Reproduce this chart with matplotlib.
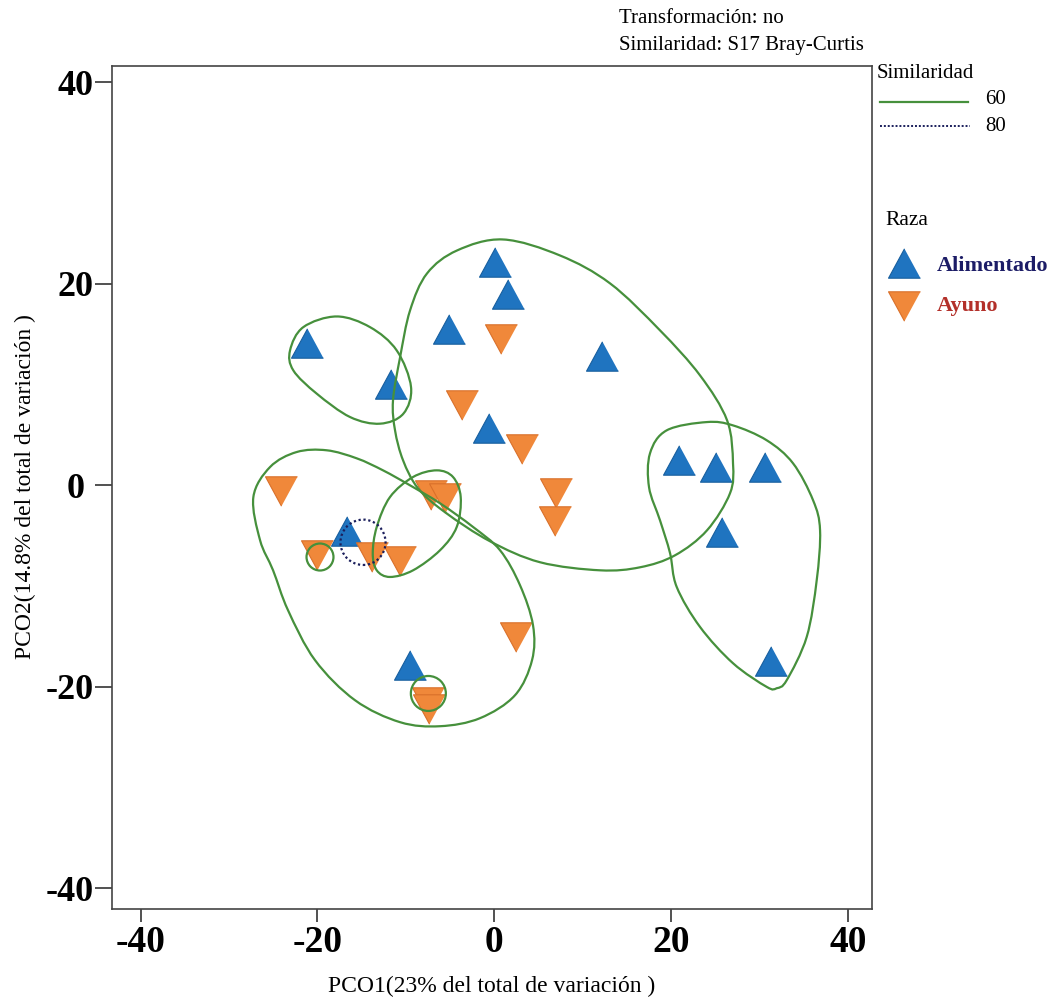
import numpy as np
import matplotlib
matplotlib.use('Agg')
import matplotlib.pyplot as plt
from matplotlib.path import Path
from matplotlib.patches import PathPatch, Ellipse
from matplotlib.lines import Line2D

plt.rcParams['font.family'] = ['Liberation Serif', 'DejaVu Serif']
plt.rcParams['axes.unicode_minus'] = False

# PCO scores - Alimentado
alim_x = [-21.23, -11.67, 0.06, 1.57, -5.13, -0.61, 12.20, 20.89, 25.13, 30.61, 25.80, 31.27, -16.68, -9.52]
alim_y = [14.13, 10.01, 22.11, 18.94, 15.53, 5.68, 12.79, 2.47, 1.81, 1.81, -4.64, -17.46, -4.57, -17.79]

# PCO scores - Ayuno
ayuno_x = [0.72, -3.64, 3.15, 6.94, 6.88, 2.47, -24.15, -20.02, -13.88, -10.68, -7.20, -5.62, -7.49, -7.37]
ayuno_y = [14.49, 7.96, 3.56, -0.75, -3.58, -15.08, -0.53, -6.95, -7.08, -7.47, -0.97, -1.28, -21.50, -22.22]

# similarity 60 outlines (PCO1, PCO2)
grupo_a = [(-17.82, 16.75), (-21.60, 15.69), (-23.10, 13.38), (-22.73, 11.40), (-20.08, 9.09),
           (-16.31, 6.77), (-12.92, 6.11), (-10.28, 7.10), (-9.41, 9.74), (-11.03, 13.38), (-14.05, 15.69)]
grupo_b = [(1.00, 24.39), (-4.20, 23.30), (-7.60, 21.02), (-9.52, 17.35), (-10.65, 12.69), (-11.45, 8.42),
           (-11.22, 5.45), (-10.31, 2.47), (-8.62, -0.30), (-5.56, -2.68), (-0.47, -5.56), (5.19, -7.64),
           (11.98, -8.44), (16.50, -8.14), (20.46, -6.95), (24.08, -4.47), (26.68, -0.80), (27.02, 2.18),
           (26.35, 6.44), (23.29, 10.90), (18.76, 15.37), (13.11, 20.03), (7.45, 22.80)]
grupo_c = [(24.05, 6.27), (19.52, 5.45), (17.63, 3.17), (17.52, -0.20), (18.76, -3.48), (19.90, -6.75),
           (20.65, -10.09), (23.29, -14.06), (27.02, -17.66), (30.84, -20.01), (31.97, -20.14), (33.10, -19.34),
           (35.36, -15.05), (36.49, -9.43), (36.87, -4.47), (36.08, -1.49), (33.81, 2.18), (30.84, 4.46),
           (27.02, 5.94)]
grupo_d = [(-22.34, 3.30), (-18.95, 3.47), (-15.55, 2.67), (-12.58, 1.48), (-9.52, -0.01), (-6.13, -1.79),
           (-2.39, -4.14), (0.66, -6.45), (2.92, -9.92), (4.39, -13.89), (4.28, -17.36), (2.36, -20.83),
           (-1.60, -23.11), (-6.13, -23.91), (-10.65, -23.51), (-15.75, -21.33), (-20.27, -17.36),
           (-23.33, -12.40), (-25.02, -8.44), (-26.49, -5.46), (-27.25, -1.17), (-25.36, 1.81)]
grupo_e = [(-13.29, -4.14), (-11.79, -1.17), (-9.18, 0.82), (-6.50, 1.48), (-4.66, 0.82), (-3.79, -1.17),
           (-4.24, -4.14), (-6.13, -6.45), (-9.18, -8.44), (-11.79, -9.10), (-13.29, -8.44), (-13.74, -6.75)]
# small circles: center x, center y, width, height
circulos_60 = [(-19.71, -7.12, 3.05, 2.68), (-7.45, -20.66, 3.96, 3.47)]
circulo_80 = (-14.84, -5.66, 5.1, 4.5)

xticks = [-40, -20, 0, 20, 40]
yticks = [-40, -20, 0, 20, 40]
ytick_labels = ['-40', '-20', '0 ', '20', '40']

azul = '#1f74c0'
naranja = '#f0883a'
verde = '#46903c'

tri_up = [(0, 0.46), (-0.5, -0.46), (0.5, -0.46)]
tri_down = [(0, -0.46), (-0.5, 0.46), (0.5, 0.46)]


def curva_cerrada(puntos):
    p = np.array(puntos, dtype=float)
    n = len(p)
    verts = [p[0]]
    codes = [Path.MOVETO]
    for i in range(n):
        p0, p1, p2, p3 = p[i - 1], p[i], p[(i + 1) % n], p[(i + 2) % n]
        verts += [p1 + (p2 - p0) / 6, p2 - (p3 - p1) / 6, p2]
        codes += [Path.CURVE4] * 3
    return Path(verts, codes)


fig = plt.figure(figsize=(10.54, 10.02), dpi=100)
ax = fig.add_axes([0.1063, 0.0933, 0.7208, 0.8413])

ax.plot(alim_x, alim_y, linestyle='none', marker=tri_up, ms=23, mfc=azul, mec='#175e9e', mew=0.8, zorder=3)
ax.plot(ayuno_x, ayuno_y, linestyle='none', marker=tri_down, ms=23, mfc=naranja, mec='#d9702a', mew=0.8, zorder=3)

for g in [grupo_a, grupo_b, grupo_c, grupo_d, grupo_e]:
    ax.add_patch(PathPatch(curva_cerrada(g), fill=False, edgecolor=verde, lw=1.6, zorder=4))
for cx, cy, w, h in circulos_60:
    ax.add_patch(Ellipse((cx, cy), w, h, fill=False, edgecolor=verde, lw=1.6, zorder=4))
cx, cy, w, h = circulo_80
ax.add_patch(Ellipse((cx, cy), w, h, fill=False, edgecolor='#1b1f5c', lw=1.6, linestyle=(0, (1, 1.2)), zorder=4))

ax.set_xlim(-43.24, 42.72)
ax.set_ylim(-42.0, 41.65)
ax.set_xticks(xticks)
ax.set_xticklabels([str(t) for t in xticks], fontweight='bold', fontsize=27)
ax.set_yticks(yticks)
ax.set_yticklabels(ytick_labels, fontweight='bold', fontsize=26)
ax.tick_params(axis='x', length=9, width=1.2, pad=3, color='#333333')
ax.tick_params(axis='y', length=12, width=1.2, pad=1, color='#333333')
for s in ax.spines.values():
    s.set_color('#444444')
    s.set_linewidth(1.2)

ax.set_xlabel('PCO1(23% del total de variación )', fontsize=17, labelpad=11)
ax.set_ylabel('PCO2(14.8% del total de variación )', fontsize=17, labelpad=7)

fig.text(0.5873, 0.982, 'Transformación: no', fontsize=15, va='center')
fig.text(0.5873, 0.955, 'Similaridad: S17 Bray-Curtis', fontsize=15, va='center')

# similarity legend
fig.text(0.8321, 0.9271, 'Similaridad', fontsize=15, va='center')
fig.add_artist(Line2D([0.8349, 0.9184], [0.8982, 0.8982], color=verde, lw=1.6))
fig.text(0.9345, 0.9002, '60', fontsize=15, va='center')
fig.add_artist(Line2D([0.8349, 0.9203], [0.8743, 0.8743], color='#1b1f5c', lw=1.4, linestyle=(0, (1, 1))))
fig.text(0.9345, 0.8733, '80', fontsize=15, va='center')

# group legend
fig.text(0.8397, 0.7804, 'Raza', fontsize=15.5, va='center')
fig.add_artist(Line2D([0.8577], [0.738], marker=tri_up, ms=23, mfc=azul, mec='#175e9e', mew=0.8, linestyle='none'))
fig.add_artist(Line2D([0.8577], [0.6946], marker=tri_down, ms=23, mfc=naranja, mec='#d9702a', mew=0.8, linestyle='none'))
fig.text(0.889, 0.7345, 'Alimentado', fontsize=16, fontweight='bold', color='#1c1c66', va='center')
fig.text(0.889, 0.6946, 'Ayuno', fontsize=16, fontweight='bold', color='#b3302a', va='center')

fig.savefig('out.png', dpi=100, facecolor='white')
